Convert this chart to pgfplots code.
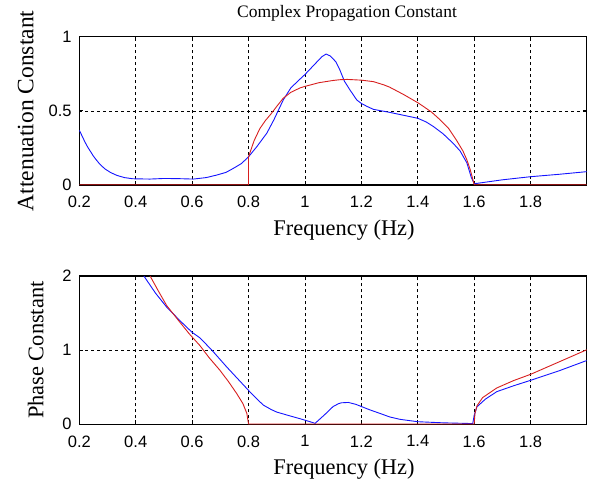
\documentclass[border=0pt]{standalone}
\usepackage{fontspec}
\setmainfont{Liberation Serif}
\setsansfont{Liberation Sans}
\usepackage{pgfplots}
\pgfplotsset{compat=1.18}
\definecolor{mred}{RGB}{215,30,30}
\definecolor{mblue}{RGB}{20,20,255}
\pgfplotsset{myax/.style={
  scale only axis, width=507.4pt, height=148.3pt, anchor=south west,
  xmin=0.2, xmax=1.999,
  xtick={0.2,0.4,0.6,0.8,1,1.2,1.4,1.6,1.8},
  xticklabels={0.2,0.4,0.6,0.8,1,1.2,1.4,1.6,1.8},
  tick label style={font=\sffamily\fontsize{16.5}{18}\selectfont, inner sep=0pt},
  xticklabel style={anchor=north, yshift=-11pt},
  yticklabel style={anchor=east, xshift=-7.5pt},
  grid=major,
  major grid style={black, dash pattern=on 3pt off 3pt, line width=0.6pt},
  axis line style={line width=1.2pt},
  tick align=inside, major tick length=4pt,
  tick style={black, line width=0.8pt},
  xlabel={Frequency (Hz)},
  label style={font=\fontsize{22.4}{25}\selectfont},
  xlabel style={at={(axis description cs:0.5,0)}, anchor=base, yshift=-50pt, xshift=11pt},
  every axis plot/.append style={line width=0.9pt},
}}
\begin{document}
\begin{tikzpicture}
\useasboundingbox (0,0) rectangle (592pt,-485pt);
\begin{axis}[myax, at={(79.3pt,-185pt)},
  ymin=0, ymax=1, ytick={0,0.5,1}, yticklabels={0,0.5,1},
  ylabel={Attenuation Constant},
  ylabel style={at={(axis description cs:-0.0907,0.5)}, anchor=base, rotate=0, font=\fontsize{23.5}{26}\selectfont},
  title={Complex Propagation Constant},
  title style={font=\fontsize{17.5}{20}\selectfont, at={(axis description cs:0.5,1)}, anchor=base, yshift=13.5pt, xshift=14pt},
]
\addplot[mblue] coordinates {
(0.2,0.37)(0.21,0.33)(0.22,0.29)(0.23,0.255)(0.24,0.225)(0.25,0.195)(0.26,0.17)(0.273,0.14)(0.29,0.11)(0.31,0.085)(0.333,0.065)(0.36,0.05)(0.39,0.042)(0.45,0.04)(0.5,0.044)(0.55,0.043)(0.604,0.04)(0.65,0.05)(0.687,0.067)(0.72,0.085)(0.746,0.112)(0.775,0.145)(0.8,0.19)(0.83,0.26)(0.865,0.35)(0.89,0.44)(0.923,0.573)(0.95,0.655)(0.983,0.715)(1.0,0.745)(1.03,0.805)(1.06,0.865)(1.075,0.883)(1.09,0.87)(1.11,0.83)(1.124,0.775)(1.14,0.7)(1.16,0.64)(1.184,0.573)(1.2,0.55)(1.22,0.53)(1.243,0.51)(1.3,0.49)(1.35,0.47)(1.40,0.45)(1.43,0.425)(1.455,0.395)(1.49,0.345)(1.526,0.28)(1.55,0.23)(1.574,0.15)(1.59,0.05)(1.6,0.01)(1.61,0.011)(1.7,0.035)(1.8,0.056)(1.9,0.072)(1.999,0.09)
};
\addplot[mred] coordinates {
(0.2,0.002)(0.8,0.002)(0.8,0.19)(0.82,0.3)(0.84,0.38)(0.86,0.435)(0.88,0.48)(0.9,0.53)(0.923,0.585)(0.95,0.625)(0.983,0.655)(1.0,0.665)(1.05,0.69)(1.1,0.705)(1.124,0.71)(1.15,0.712)(1.2,0.707)(1.243,0.697)(1.28,0.675)(1.3,0.66)(1.325,0.635)(1.35,0.61)(1.37,0.588)(1.4,0.555)(1.42,0.53)(1.45,0.49)(1.479,0.44)(1.51,0.38)(1.538,0.30)(1.56,0.23)(1.574,0.17)(1.585,0.11)(1.595,0.04)(1.6,0.002)(1.999,0.002)
};
\end{axis}
\begin{axis}[myax, at={(79.3pt,-424.3pt)},
  ymin=0, ymax=2, ytick={0,1,2}, yticklabels={0,1,2},
  ylabel={Phase Constant},
  ylabel style={at={(axis description cs:-0.071,0.5)}, anchor=base, rotate=0},
]
\addplot[mblue] coordinates {
(0.4,2.25)(0.429,2.0)(0.47,1.77)(0.51,1.58)(0.557,1.397)(0.6,1.24)(0.628,1.165)(0.67,1.0)(0.723,0.772)(0.77,0.58)(0.805,0.437)(0.83,0.34)(0.853,0.258)(0.88,0.2)(0.9,0.165)(0.95,0.11)(0.983,0.075)(1.018,0.035)(1.036,0.013)(1.07,0.13)(1.1,0.24)(1.12,0.28)(1.13,0.29)(1.154,0.295)(1.18,0.27)(1.2,0.24)(1.23,0.195)(1.266,0.147)(1.3,0.1)(1.337,0.067)(1.4,0.035)(1.49,0.02)(1.595,0.01)(1.6,0.12)(1.61,0.236)(1.64,0.34)(1.68,0.44)(1.74,0.52)(1.8,0.593)(1.9,0.72)(1.999,0.86)
};
\addplot[mred] coordinates {
(0.43,2.15)(0.451,2.0)(0.48,1.8)(0.51,1.6)(0.557,1.375)(0.59,1.22)(0.628,1.06)(0.66,0.9)(0.699,0.727)(0.73,0.57)(0.758,0.415)(0.78,0.28)(0.794,0.147)(0.8,0.004)(1.6,0.004)(1.603,0.15)(1.61,0.25)(1.63,0.36)(1.68,0.49)(1.74,0.59)(1.8,0.674)(1.9,0.84)(1.999,1.005)
};
\end{axis}
\end{tikzpicture}
\end{document}
